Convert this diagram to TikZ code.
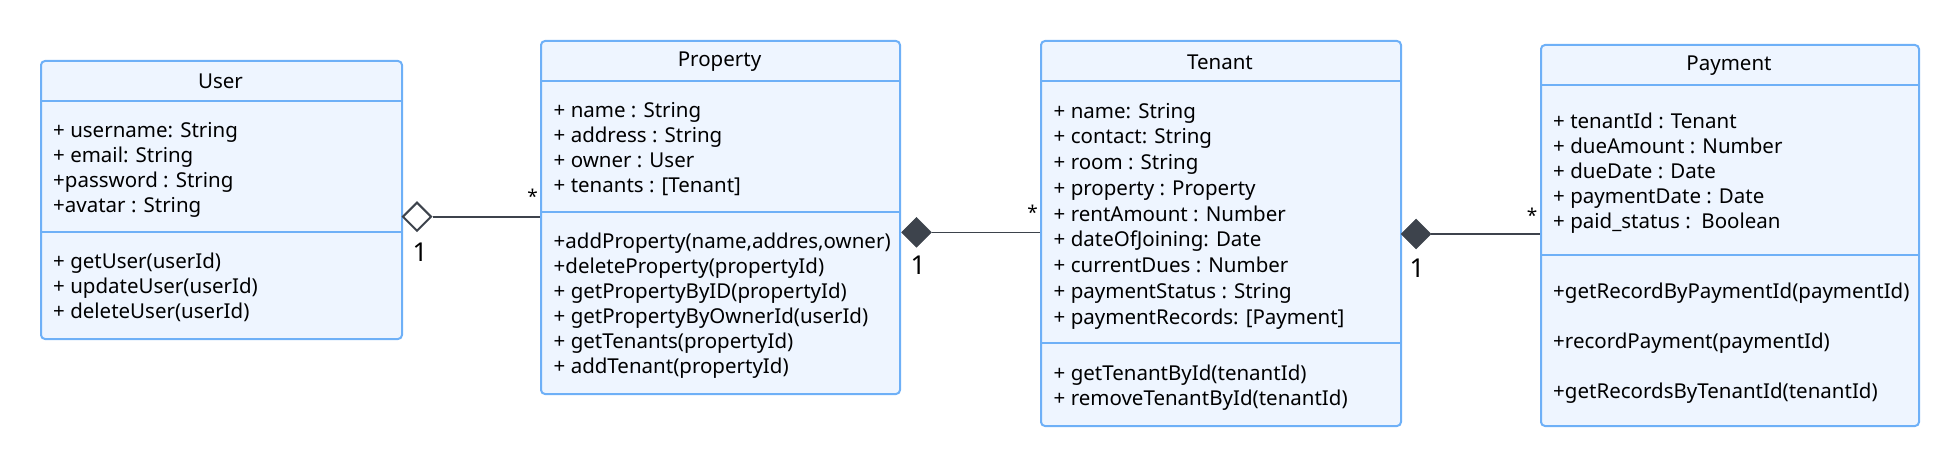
\documentclass[tikz,border=0pt]{standalone}
\usepackage{fontspec}
\setmainfont{Noto Sans}
\usetikzlibrary{shapes.geometric}
\definecolor{boxfill}{HTML}{EEF5FF}
\definecolor{boxline}{HTML}{6EB0F7}
\definecolor{ink}{HTML}{3D434C}
\tikzset{
  classbox/.style={draw=boxline, fill=boxfill, line width=2pt, rounded corners=4pt, inner sep=0pt},
  sep/.style={draw=boxline, line width=2pt},
  row/.style={anchor=base west, inner sep=0pt, font=\fontsize{20.5}{24}\selectfont, text=black},
  title/.style={anchor=center, inner sep=0pt, font=\fontsize{20.5}{24}\selectfont, text=black},
  conn/.style={draw=ink, line width=1.3pt},
  hollowdia/.style={diamond, draw=ink, fill=white, line width=2pt, minimum width=29pt, minimum height=29pt, inner sep=0pt},
  filldia/.style={diamond, draw=ink, fill=ink, line width=0.5pt, minimum width=30pt, minimum height=30pt, inner sep=0pt},
  mult/.style={inner sep=0pt, font=\fontsize{26}{28}\selectfont, text=black},
  star/.style={inner sep=0pt, font=\fontsize{19}{22}\selectfont\bfseries, text=black},
}
\begin{document}
\begin{tikzpicture}[x=1pt,y=-1pt]
\useasboundingbox (0,0) rectangle (1959,465);
% ---------- User ----------
\node[classbox, minimum width=361pt, minimum height=278pt, anchor=north west] (user) at (40,60) {};
\draw[sep] (40,100.7) -- (401,100.7);
\draw[sep] (40,231.7) -- (401,231.7);
\node[title] (userT) at (220.5,81) {User};
\foreach \t [count=\i] in {{+ username: String},{+ email: String},{+password : String},{+avatar : String}}
  \node[row] (ua\i) at (53,{130+7.5+(\i-1)*25}) {\t};
\foreach \t [count=\i] in {{+ getUser(userId)},{+ updateUser(userId)},{+ deleteUser(userId)}}
  \node[row] (um\i) at (53,{261+7.5+(\i-1)*25}) {\t};
% ---------- Property ----------
\node[classbox, minimum width=359pt, minimum height=353pt, anchor=north west] (property) at (540,40) {};
\draw[sep] (540,81) -- (899,81);
\draw[sep] (540,212) -- (899,212);
\node[title] (propT) at (719.5,62) {Property};
\foreach \t [count=\i] in {{+ name : String},{+ address : String},{+ owner : User},{+ tenants : [Tenant]}}
  \node[row] (pa\i) at (553.5,{110+7.5+(\i-1)*25}) {\t};
\foreach \t [count=\i] in {{+addProperty(name,addres,owner)},{+deleteProperty(propertyId)},{+ getPropertyByID(propertyId)},{+ getPropertyByOwnerId(userId)},{+ getTenants(propertyId)},{+ addTenant(propertyId)}}
  \node[row] (pm\i) at (553.5,{241+7.5+(\i-1)*25}) {\t};
% ---------- Tenant ----------
\node[classbox, minimum width=360pt, minimum height=385pt, anchor=north west] (tenant) at (1040,40) {};
\draw[sep] (1040,81) -- (1400,81);
\draw[sep] (1040,343) -- (1400,343);
\node[title] (tenT) at (1220,62) {Tenant};
\foreach \t [count=\i] in {{+ name: String},{+ contact: String},{+ room : String},{+ property : Property},{+ rentAmount : Number},{+ dateOfJoining: Date},{+ currentDues : Number},{+ paymentStatus : String},{+ paymentRecords: [Payment]}}
  \node[row] (ta\i) at (1053.5,{110.7+7.5+(\i-1)*25.75}) {\t};
\foreach \t [count=\i] in {{+ getTenantById(tenantId)},{+ removeTenantById(tenantId)}}
  \node[row] (tm\i) at (1053.5,{373.3+7.5+(\i-1)*25}) {\t};
% ---------- Payment ----------
\node[classbox, minimum width=378pt, minimum height=381pt, anchor=north west] (payment) at (1540,44) {};
\draw[sep] (1540,85) -- (1918,85);
\draw[sep] (1540,255) -- (1918,255);
\node[title] (payT) at (1729,66) {Payment};
\foreach \t [count=\i] in {{+ tenantId : Tenant},{+ dueAmount : Number},{+ dueDate : Date},{+ paymentDate : Date},{+ paid\_status :\ \ Boolean}}
  \node[row] (ya\i) at (1553,{120.7+7.5+(\i-1)*25}) {\t};
\foreach \t [count=\i] in {{+getRecordByPaymentId(paymentId)},{+recordPayment(paymentId)},{+getRecordsByTenantId(tenantId)}}
  \node[row] (ym\i) at (1553,{290.7+7.5+(\i-1)*50}) {\t};
% ---------- Connectors ----------
\node[hollowdia] (d1) at (417,216.7) {};
\draw[conn, line width=2.2pt] (d1.east) -- (property.west |- d1.east);
\node[filldia] (d2) at (916.5,232.3) {};
\draw[conn] (d2.east) -- (tenant.west |- d2.east);
\node[filldia] (d3) at (1416,234) {};
\draw[conn] (d3.east) -- (payment.west |- d3.east);
% multiplicities
\node[mult] (m1a) at (420,252) {1};
\node[star] (m1b) at (532.7,196) {*};
\node[mult] (m2a) at (918,265) {1};
\node[star] (m2b) at (1032.7,212.7) {*};
\node[mult] (m3a) at (1417,268) {1};
\node[star] (m3b) at (1532,215) {*};
\end{tikzpicture}
\end{document}
